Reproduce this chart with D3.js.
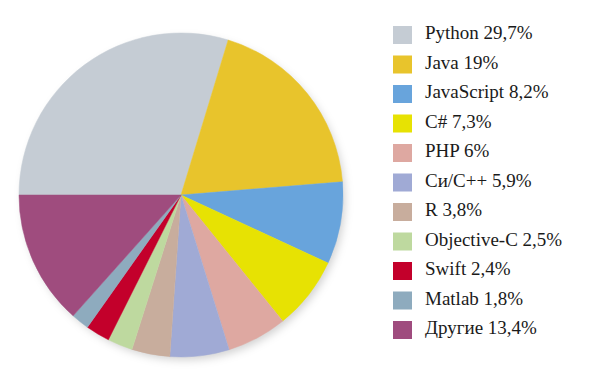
<!DOCTYPE html>
<html>
<head>
<meta charset="utf-8">
<script src="https://cdn.jsdelivr.net/npm/d3@7"></script>
<style>
  body { margin: 0; background: #fff; }
  svg { display: block; }
</style>
</head>
<body>
<div id="chart"></div>
<script>
// languages share, clockwise from 9 o'clock
const languages = ["Python", "Java", "JavaScript", "C#", "PHP", "Си/C++", "R", "Objective-C", "Swift", "Matlab", "Другие"];
const shares = [29.7, 19, 8.2, 7.3, 6, 5.9, 3.8, 2.5, 2.4, 1.8, 13.4];
const labels = ["29,7%", "19%", "8,2%", "7,3%", "6%", "5,9%", "3,8%", "2,5%", "2,4%", "1,8%", "13,4%"];
const colors = ["#c5ccd4", "#e8c42c", "#68a4dc", "#e7e203", "#dea8a1", "#a0aad5", "#c8ad9d", "#bed99f", "#c3002b", "#8eabbe", "#9f4c7e"];

const width = 600, height = 375;
const cx = 181, cy = 195, radius = 162;

const svg = d3.select("#chart").append("svg")
    .attr("width", width)
    .attr("height", height);

// soft shadow under the pie
const defs = svg.append("defs");
const filter = defs.append("filter")
    .attr("id", "shadow")
    .attr("x", "-20%").attr("y", "-20%")
    .attr("width", "140%").attr("height", "140%");
filter.append("feDropShadow")
    .attr("dx", 3).attr("dy", 4)
    .attr("stdDeviation", 4)
    .attr("flood-color", "#000")
    .attr("flood-opacity", 0.18);

const color = d3.scaleOrdinal().domain(languages).range(colors);

const pie = d3.pie()
    .sort(null)
    .value(d => d.value)
    .startAngle(-Math.PI / 2)
    .endAngle(1.5 * Math.PI);

const data = languages.map((name, i) => ({ name: name, value: shares[i], label: labels[i] }));

const arc = d3.arc().innerRadius(0).outerRadius(radius);

const g = svg.append("g")
    .attr("transform", `translate(${cx},${cy})`);

g.append("circle")
    .attr("r", radius - 1)
    .attr("fill", "#fff")
    .attr("filter", "url(#shadow)");

g.selectAll("path")
    .data(pie(data))
    .enter()
    .append("path")
    .attr("d", arc)
    .attr("fill", d => color(d.data.name))
    .attr("stroke", d => color(d.data.name))
    .attr("stroke-width", 0.5);

// legend
const rowY = d3.scaleLinear().domain([0, languages.length - 1]).range([26, 321]);

const legend = svg.append("g");
const rows = legend.selectAll("g")
    .data(data)
    .enter()
    .append("g")
    .attr("transform", (d, i) => `translate(393,${rowY(i)})`);

rows.append("rect")
    .attr("width", 19)
    .attr("height", 18)
    .attr("fill", d => color(d.name));

rows.append("text")
    .attr("x", 32)
    .attr("y", 13)
    .attr("font-family", "'Liberation Serif', 'DejaVu Serif', serif")
    .attr("font-size", 19)
    .attr("fill", "#1a1a1a")
    .text(d => d.name + " " + d.label);
</script>
</body>
</html>
